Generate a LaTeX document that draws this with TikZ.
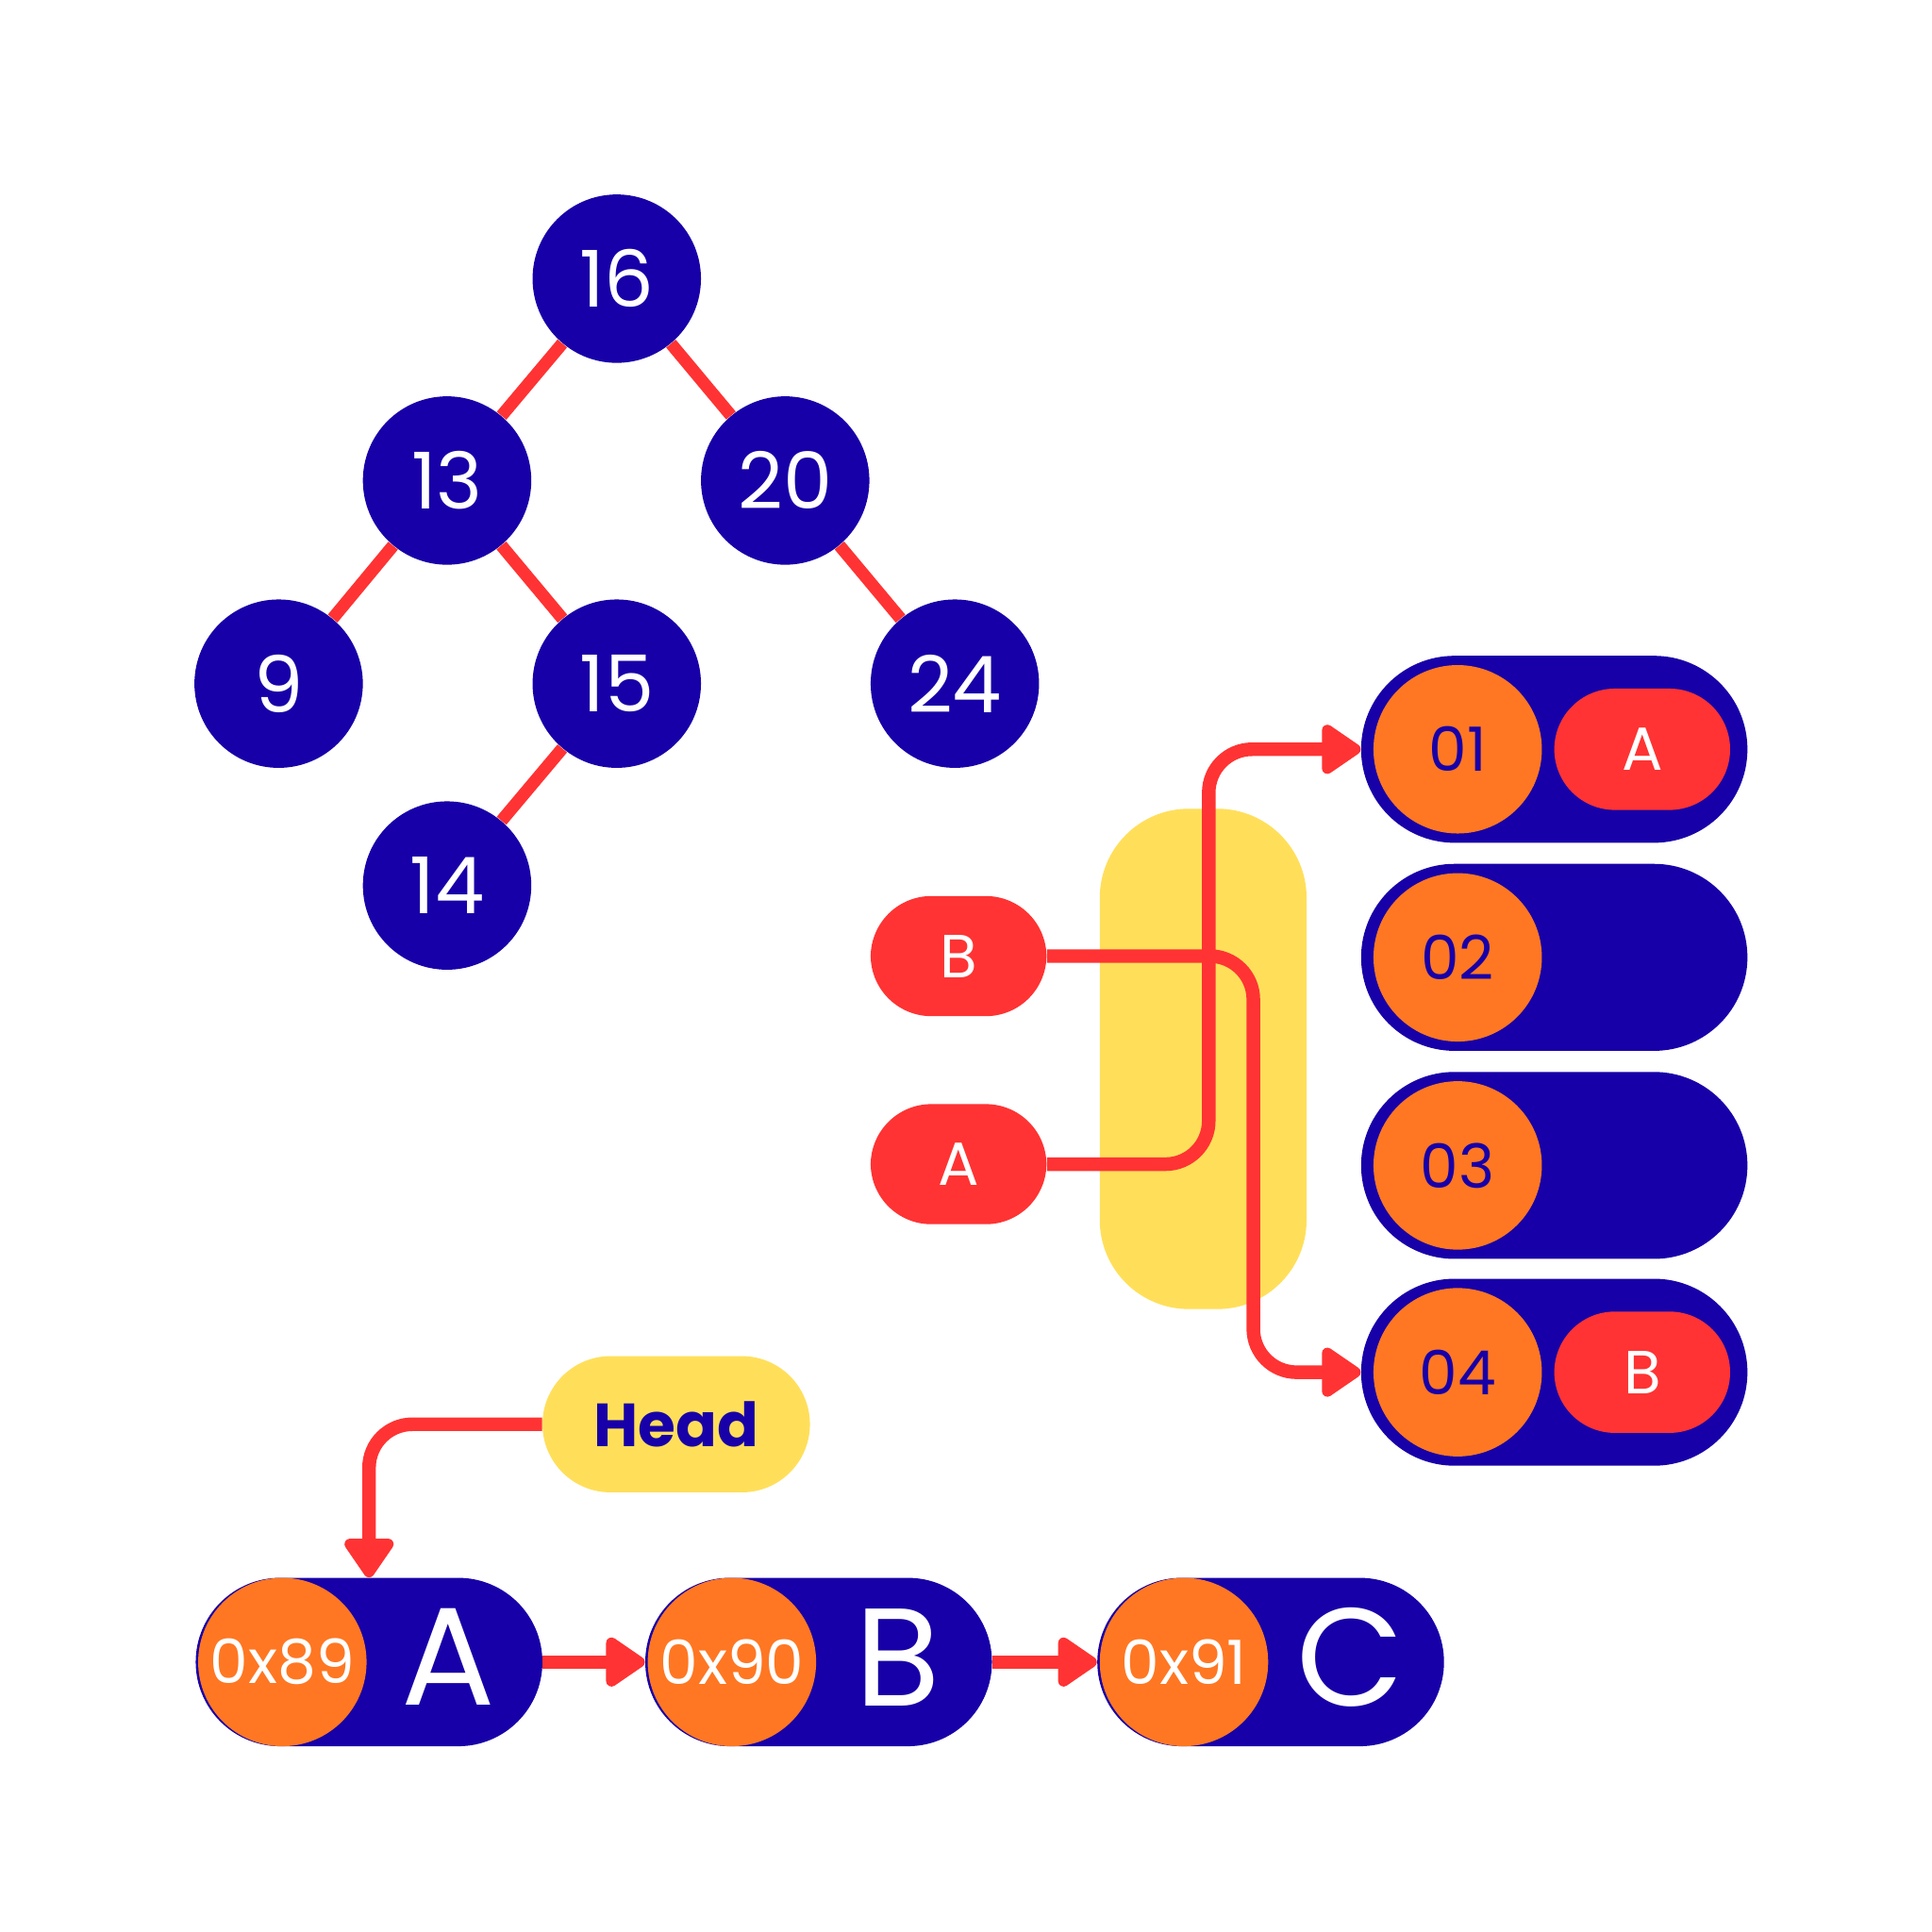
\documentclass[tikz,border=0pt]{standalone}
\usepackage{fontspec}
\setmainfont{Poppins}
\usetikzlibrary{arrows.meta}
\usetikzlibrary{positioning}
\definecolor{navy}{HTML}{1800A8}
\definecolor{tomato}{HTML}{FF3333}
\definecolor{tangerine}{HTML}{FF7722}
\definecolor{sun}{HTML}{FFDF5A}
\tikzset{>={Triangle[width=0.9cm,length=0.7cm,round]}}
\tikzset{
  treenode/.style={circle, fill=navy, minimum size=2.72cm, inner sep=0pt, text=white, font=\fontsize{36}{40}\selectfont},
  treeedge/.style={tomato, line width=0.2cm},
  pill/.style={rounded corners=#1, inner sep=0pt},
  bucket/.style={fill=navy, minimum width=6.24cm, minimum height=3.02cm, pill=1.51cm},
  slot/.style={circle, fill=tangerine, minimum size=2.72cm, inner sep=0pt, text=navy, font=\fontsize{28}{32}\selectfont},
  val/.style={fill=tomato, minimum width=2.84cm, minimum height=1.96cm, pill=0.98cm, text=white, font=\fontsize{28}{32}\selectfont},
  listnode/.style={fill=navy, minimum width=5.6cm, minimum height=2.72cm, pill=1.36cm},
  addr/.style={circle, fill=tangerine, minimum size=2.72cm, inner sep=0pt, text=white, font=\fontsize{28}{32}\selectfont},
  conn/.style={tomato, line width=0.22cm, rounded corners=0.7cm},
}
\begin{document}
\begin{tikzpicture}[x=0.02cm, y=-0.02cm]
  \fill[white] (0,0) rectangle (1560,1560);
  % tree
  \node [treenode] (n16) at (498,225) {16};
  \node [treenode] (n13) at (361,388) {13};
  \node [treenode] (n20) at (634,388) {20};
  \node [treenode] (n9) at (225,552) {9};
  \node [treenode] (n15) at (498,552) {15};
  \node [treenode] (n24) at (771,552) {24};
  \node [treenode] (n14) at (361,715) {14};
  \foreach \a/\b in {n16/n13, n16/n20, n13/n9, n13/n15, n20/n24, n15/n14}
    \draw [treeedge] (\a) -- (\b);
  % hash table
  \fill [sun, rounded corners=1.44cm] (888,653) rectangle (1055,1057);
  \node [val, minimum height=1.94cm] (kb) at (774,772) {B};
  \node [val, minimum height=1.94cm] (ka) at (774,940) {A};
  \foreach \i/\y in {1/605, 2/773, 3/941, 4/1108} {
    \node [bucket] (b\i) at (1255,\y) {};
    \node [slot] (s\i) at (1177,\y) {0\i};
  }
  \node [val] (v1) at (1326,605) {A};
  \node [val] (v4) at (1326,1108) {B};
  \draw [conn, ->] (ka.east) -| (976,605) -- (b1.west);
  \draw [conn, ->] (kb.east) -| (1012,1108) -- (b4.west);
  % linked list
  \node [fill=sun, minimum width=4.32cm, minimum height=2.2cm, pill=1.1cm, text=navy, font=\fontsize{28}{32}\selectfont\bfseries] (head) at (546,1150) {Head};
  \foreach \i/\x/\t/\l in {1/298/0x89/A, 2/661/0x90/B, 3/1026/0x91/C} {
    \node [listnode] (l\i) at (\x,1342) {};
    \node [addr] (a\i) at (\x-70,1342) {\t};
    \node [text=white, font=\fontsize{64}{70}\selectfont] (t\i) at (\x+64,1338) {\l};
  }
  \draw [conn, ->] (l1.east) -- (l2.west);
  \draw [conn, ->] (l2.east) -- (l3.west);
  \draw [conn, ->] (head.west) -| (l1.north);
\end{tikzpicture}
\end{document}
